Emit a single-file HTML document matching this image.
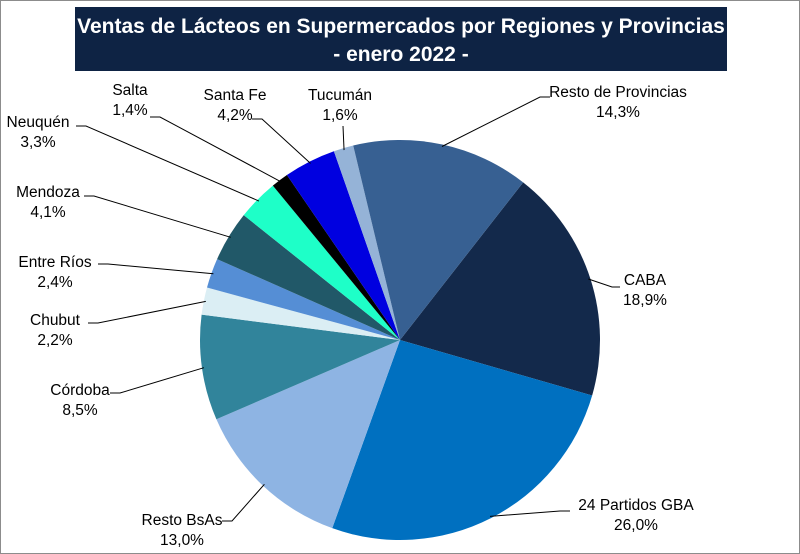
<!DOCTYPE html>
<html><head><meta charset="utf-8">
<style>
body{margin:0;background:#fff;}
svg{display:block;font-family:"Liberation Sans",sans-serif;}
</style></head>
<body>
<svg id="chart" width="800" height="554" viewBox="0 0 800 554">
  <rect x="0.5" y="0.5" width="799" height="553" fill="#fff" stroke="#8c8c8c"/>
  <rect x="75" y="7" width="652" height="64" fill="#0e2344"/>
  <text x="401" y="33" text-anchor="middle" fill="#fff" font-size="21" font-weight="bold">Ventas de Lácteos en Supermercados por Regiones y Provincias</text>
  <text x="401" y="61" text-anchor="middle" fill="#fff" font-size="21" font-weight="bold">- enero 2022 -</text>
  <g id="slices"></g>
  <g id="labels"></g>
</svg>
<script>
const categories = ["CABA","24 Partidos GBA","Resto BsAs","Córdoba","Chubut","Entre Ríos","Mendoza","Neuquén","Salta","Santa Fe","Tucumán","Resto de Provincias"];
const values = [18.9,26.0,13.0,8.5,2.2,2.4,4.1,3.3,1.4,4.2,1.6,14.3];
const valueLabels = ["18,9%","26,0%","13,0%","8,5%","2,2%","2,4%","4,1%","3,3%","1,4%","4,2%","1,6%","14,3%"];
const colors = ["#13294b","#0070c0","#8eb4e3","#31849b","#dbeef4","#558ed5","#215868","#1effc8","#000000","#0000e0","#95b3d7","#376092"];
const labelPos = [
 [645,285, 620,287, 612],
 [636,510, 570,511, 560],
 [182,525, 222,521, 232],
 [80,395, 110,393, 120],
 [55,325, 88,323, 98],
 [55,267, 98,264, 108],
 [48,197, 84,196, 94],
 [38,127, 76,126, 86],
 [130,95, 150,117, 160],
 [235,100, 252,119, 262],
 [340,100, 343,126, 343],
 [618,97, 550,97, 540]
];
const cx=400, cy=340, R=200, startDeg=38;
const NS="http://www.w3.org/2000/svg";
const gS=document.getElementById('slices'), gL=document.getElementById('labels');
const total=values.reduce((a,b)=>a+b,0);
function pt(deg,r){const a=deg*Math.PI/180;return [cx+r*Math.sin(a), cy-r*Math.cos(a)];}
let ang=startDeg;
values.forEach((v,i)=>{
  const sweep=v/total*360, a0=ang, a1=ang+sweep; ang=a1;
  const p0=pt(a0,R), p1=pt(a1,R);
  const path=document.createElementNS(NS,'path');
  path.setAttribute('d',`M${cx},${cy} L${p0[0]},${p0[1]} A${R},${R} 0 ${sweep>180?1:0} 1 ${p1[0]},${p1[1]} Z`);
  path.setAttribute('fill',colors[i]);
  
  
  gS.appendChild(path);
  const L=labelPos[i], m=pt((a0+a1)/2,R-2);
  const line=document.createElementNS(NS,'polyline');
  line.setAttribute('points',`${L[2]},${L[3]} ${L[4]},${L[3]} ${m[0]},${m[1]}`);
  line.setAttribute('fill','none');line.setAttribute('stroke','#000');line.setAttribute('stroke-width','1');
  
  
  gL.appendChild(line);
  const t=document.createElementNS(NS,'text');
  t.setAttribute('x',L[0]);t.setAttribute('y',L[1]);t.setAttribute('text-anchor','middle');
  t.setAttribute('font-size','15.5');t.setAttribute('fill','#000');
  
  
  const s1=document.createElementNS(NS,'tspan');s1.setAttribute('x',L[0]);s1.textContent=categories[i];
  const s2=document.createElementNS(NS,'tspan');s2.setAttribute('x',L[0]);s2.setAttribute('dy','20');s2.textContent=valueLabels[i];
  t.appendChild(s1);t.appendChild(s2);gL.appendChild(t);
});
</script>
</body></html>
